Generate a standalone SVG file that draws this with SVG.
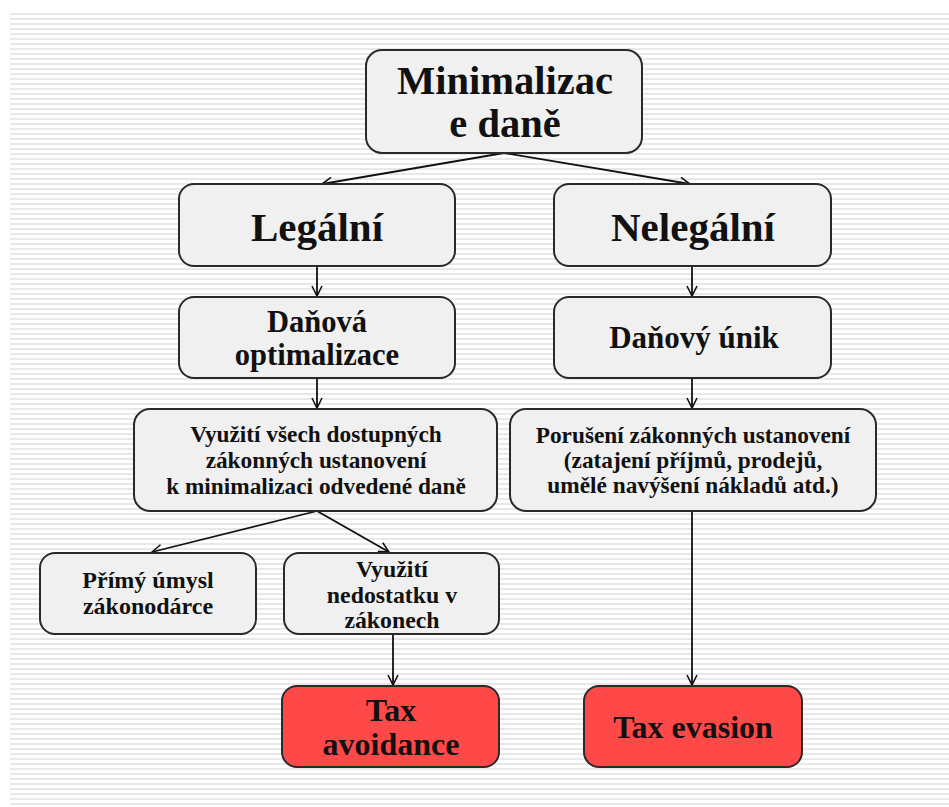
<svg xmlns="http://www.w3.org/2000/svg" width="949" height="807" viewBox="0 0 949 807">
<defs>
<pattern id="stripes" x="0" y="13" width="10" height="5" patternUnits="userSpaceOnUse">
<rect x="0" y="0" width="10" height="2" fill="#e8e8e8"/>
</pattern>
<marker id="arr" viewBox="0 0 12 12" refX="11" refY="6" markerWidth="12" markerHeight="12" markerUnits="userSpaceOnUse" orient="auto">
<path d="M1,1 L11,6 L1,11" fill="none" stroke="#111" stroke-width="1.6"/>
</marker>
</defs>
<style>
.box{fill:#f0f0f0;stroke:#2a2a2a;stroke-width:2}
.red{fill:#ff4848;stroke:#2a2a2a;stroke-width:2}
text{font-family:"Liberation Serif","Times New Roman",serif;font-weight:bold;fill:#111;text-anchor:middle}
.c{fill:none;stroke:#111;stroke-width:1.8;marker-end:url(#arr)}
</style>
<rect width="949" height="807" fill="#fff"/>
<rect x="10" y="13" width="939" height="794" fill="url(#stripes)"/>
<g id="connectors">
<line class="c" x1="504" y1="153" x2="322" y2="184"/>
<line class="c" x1="504" y1="153" x2="690" y2="184"/>
<line class="c" x1="317" y1="266" x2="317" y2="296"/>
<line class="c" x1="692" y1="266" x2="692" y2="296"/>
<line class="c" x1="317" y1="378" x2="317" y2="408"/>
<line class="c" x1="692" y1="378" x2="692" y2="408"/>
<line class="c" x1="317" y1="511" x2="152" y2="552"/>
<line class="c" x1="317" y1="511" x2="389" y2="552"/>
<line class="c" x1="393" y1="634" x2="393" y2="685"/>
<line class="c" x1="692" y1="511" x2="692" y2="685"/>
</g>
<g id="root">
<rect class="box" x="366" y="50" width="276" height="103" rx="16"/>
<text x="505" y="94" font-size="40.5">Minimalizac</text>
<text x="505" y="137" font-size="40.5">e daně</text>
</g>
<g id="legalni">
<rect class="box" x="179" y="184" width="276" height="82" rx="15"/>
<text x="317" y="241" font-size="41">Legální</text>
</g>
<g id="nelegalni">
<rect class="box" x="554" y="184" width="277" height="82" rx="15"/>
<text x="693" y="241" font-size="41">Nelegální</text>
</g>
<g id="optimalizace">
<rect class="box" x="179" y="297" width="276" height="81" rx="15"/>
<text x="317" y="332" font-size="30.5">Daňová</text>
<text x="317" y="365" font-size="30.5">optimalizace</text>
</g>
<g id="unik">
<rect class="box" x="554" y="297" width="277" height="81" rx="15"/>
<text x="694" y="348" font-size="31">Daňový únik</text>
</g>
<g id="vyuziti">
<rect class="box" x="134" y="409" width="363" height="102" rx="16"/>
<text x="316" y="442" font-size="23.3">Využití všech dostupných</text>
<text x="316" y="468" font-size="23.3">zákonných ustanovení</text>
<text x="316" y="494" font-size="23.3">k minimalizaci odvedené daně</text>
</g>
<g id="poruseni">
<rect class="box" x="510" y="409" width="366" height="102" rx="16"/>
<text x="693" y="443" font-size="23.3">Porušení zákonných ustanovení</text>
<text x="693" y="468" font-size="23.3">(zatajení příjmů, prodejů,</text>
<text x="693" y="493" font-size="23.3">umělé navýšení nákladů atd.)</text>
</g>
<g id="primy">
<rect class="box" x="40" y="553" width="216" height="81" rx="15"/>
<text x="148" y="588" font-size="24">Přímý úmysl</text>
<text x="148" y="614" font-size="24">zákonodárce</text>
</g>
<g id="nedostatek">
<rect class="box" x="284" y="553" width="215" height="81" rx="15"/>
<text x="392" y="577" font-size="23.8">Využití</text>
<text x="392" y="603" font-size="23.8">nedostatku v</text>
<text x="392" y="628" font-size="23.8">zákonech</text>
</g>
<g id="avoidance">
<rect class="red" x="282" y="686" width="217" height="81" rx="15"/>
<text x="391" y="721" font-size="32">Tax</text>
<text x="391" y="755" font-size="32">avoidance</text>
</g>
<g id="evasion">
<rect class="red" x="584" y="686" width="218" height="81" rx="15"/>
<text x="693" y="738" font-size="32">Tax evasion</text>
</g>
</svg>
